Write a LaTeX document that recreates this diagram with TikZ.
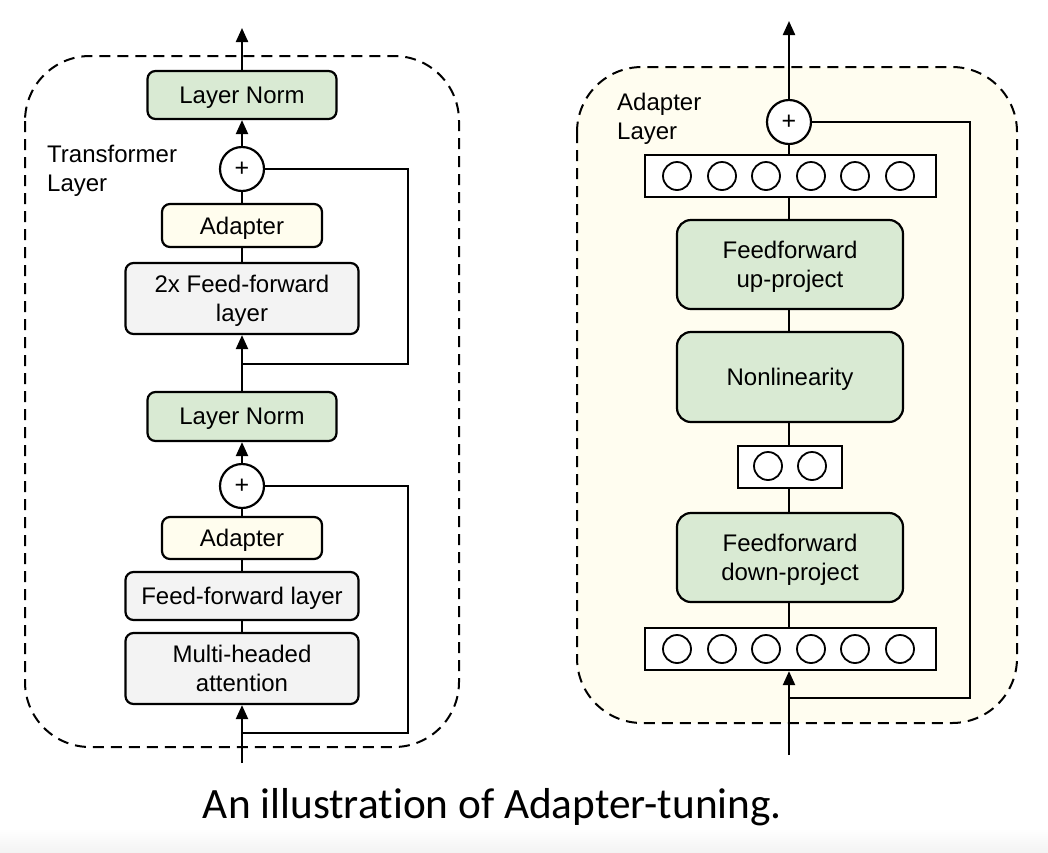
\documentclass[tikz,border=0pt]{standalone}
\usepackage{fontspec}
\setmainfont{Liberation Sans}
\newfontfamily\capfont[Ligatures={NoCommon}]{Carlito}
\usetikzlibrary{arrows.meta,shadings}
\definecolor{lngreen}{HTML}{D9EAD3}
\definecolor{adyellow}{HTML}{FFFDEE}
\definecolor{ffgray}{HTML}{F3F3F3}
\definecolor{panelbg}{HTML}{FFFDF0}
\definecolor{bandgray}{HTML}{F3F3F3}
\begin{document}
\begin{tikzpicture}[x=1pt,y=-1pt,
  box/.style={draw, line width=2.2pt, rounded corners=8pt, align=center, inner sep=0pt,
    text depth=0pt, font=\fontsize{24}{28.5}\selectfont},
  bigbox/.style={box, rounded corners=14pt, fill=lngreen, minimum width=226pt, minimum height=89pt},
  plusnode/.style={draw, circle, line width=2.2pt, fill=white, minimum size=44pt, inner sep=0pt,
    font=\fontsize{25}{25}\selectfont},
  barnode/.style={draw, line width=2.2pt, fill=white, inner sep=0pt, minimum height=42pt},
  neuron/.style={draw, circle, line width=1.8pt, fill=white, minimum size=28pt, inner sep=0pt},
  panel/.style={dashed, dash pattern=on 11pt off 7pt, line width=2pt, rounded corners=65pt},
  ln/.style={line width=2.2pt},
  arr/.style={line width=2.2pt, -{Triangle[length=14pt,width=12pt]}},
  lbl/.style={font=\fontsize{24}{29}\selectfont, align=left, inner sep=0pt, anchor=base west}
]
\useasboundingbox (0,0) rectangle (1048,852);
\shade[top color=white, bottom color=bandgray] (0,828) rectangle (1048,852);

% panels
\draw[panel] (25,56) rectangle (459,747);
\draw[panel, fill=panelbg] (577,67) rectangle (1017,723);

% coordinates
\coordinate (outL) at (242,28);
\coordinate (inL) at (242,763);
\coordinate (brL2) at (242,364);
\coordinate (brL1) at (242,733);
\coordinate (rightL) at (408,0);
\coordinate (outR) at (789,21);
\coordinate (inR) at (789,755);
\coordinate (brR) at (789,698);
\coordinate (rightR) at (970,0);

% left nodes
\node[box, fill=lngreen, minimum width=189pt, minimum height=48pt] (lnL2) at (242,95) {Layer Norm};
\node[plusnode] (addL2) at (242,169) {+};
\node[box, fill=adyellow, minimum width=160pt, minimum height=43pt] (adL2) at (242,225.5) {Adapter};
\node[box, fill=ffgray, minimum width=233pt, minimum height=71pt] (ffL2) at (242,298.5) {2x Feed-forward\\layer};
\node[box, fill=lngreen, minimum width=189pt, minimum height=49pt] (lnL1) at (242,416.5) {Layer Norm};
\node[plusnode] (addL1) at (242,486) {+};
\node[box, fill=adyellow, minimum width=160pt, minimum height=42pt] (adL1) at (242,538) {Adapter};
\node[box, fill=ffgray, minimum width=233pt, minimum height=48pt] (ffL1) at (242,596) {Feed-forward layer};
\node[box, fill=ffgray, minimum width=233pt, minimum height=71pt] (mha) at (242,668.5) {Multi-headed\\attention};
\node[lbl] (tlabel) at (47,191.5) {Transformer\\Layer};

% left connectors
\draw[arr] (lnL2.north) -- (outL);
\draw[arr] (addL2.north) -- (lnL2.south);
\draw[ln] (adL2.north) -- (addL2.south);
\draw[ln] (ffL2.north) -- (adL2.south);
\draw[arr] (lnL1.north) -- (ffL2.south);
\draw[ln] (brL2) -- (brL2 -| rightL) |- (addL2.east);
\draw[arr] (addL1.north) -- (lnL1.south);
\draw[ln] (adL1.north) -- (addL1.south);
\draw[ln] (ffL1.north) -- (adL1.south);
\draw[ln] (mha.north) -- (ffL1.south);
\draw[arr] (inL) -- (mha.south);
\draw[ln] (brL1) -- (brL1 -| rightL) |- (addL1.east);

% right nodes
\node[plusnode] (addR) at (789,122) {+};
\node[barnode, minimum width=291pt] (barT) at (790.5,176) {};
\foreach \i/\x in {1/677,2/722,3/766,4/811,5/855,6/900}
  \node[neuron] (t\i) at (\x,176) {};
\node[bigbox] (up) at (790,264.5) {Feedforward\\up-project};
\node[bigbox, minimum height=90pt] (nl) at (790,377) {Nonlinearity};
\node[barnode, minimum width=104pt] (barS) at (790,467) {};
\node[neuron] (s1) at (768,466) {};
\node[neuron] (s2) at (812,466) {};
\node[bigbox] (down) at (790,557.5) {Feedforward\\down-project};
\node[barnode, minimum width=291pt] (barB) at (790.5,649) {};
\foreach \i/\x in {1/677,2/722,3/766,4/811,5/855,6/900}
  \node[neuron] (b\i) at (\x,649) {};
\node[lbl] (alabel) at (617,139.5) {Adapter\\Layer};

% right connectors
\draw[arr] (addR.north) -- (outR);
\draw[ln] (barT.north -| addR) -- (addR.south);
\draw[ln] (up.north -| addR) -- (barT.south -| addR);
\draw[ln] (nl.north -| addR) -- (up.south -| addR);
\draw[ln] (barS.north -| addR) -- (nl.south -| addR);
\draw[ln] (down.north -| addR) -- (barS.south -| addR);
\draw[ln] (barB.north -| addR) -- (down.south -| addR);
\draw[arr] (inR) -- (barB.south -| addR);
\draw[ln] (brR) -- (brR -| rightR) |- (addR.east);

% caption
\node[font=\capfont\fontsize{43.3}{43.3}\selectfont, anchor=base, inner sep=0pt] (caption) at (492.5,818) {An illustration of Adapter-tuning.};
\end{tikzpicture}
\end{document}
